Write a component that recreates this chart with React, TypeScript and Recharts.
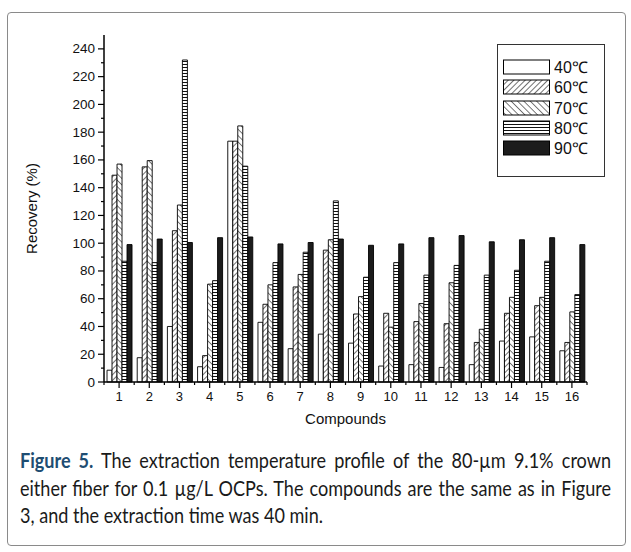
import React from 'react'
import { BarChart, Bar, XAxis, YAxis } from 'recharts'

const compounds = ['1', '2', '3', '4', '5', '6', '7', '8', '9', '10', '11', '12', '13', '14', '15', '16']
const t40 = [8.5, 17.5, 40, 11, 173.5, 43, 24, 34.5, 28, 11.5, 12.5, 10.5, 12.5, 29.5, 32.5, 22.5]
const t60 = [149, 155, 109, 19, 173.5, 56, 68.5, 95, 49, 49.5, 43.5, 42, 28.5, 49.5, 55, 28.5]
const t70 = [157, 159.5, 127.5, 70.5, 184.5, 70, 77.5, 102.5, 61.5, 39.5, 56.5, 71.5, 38, 61, 61, 50.5]
const t80 = [87, 86, 232, 73, 155.5, 86, 93.5, 130.5, 75.5, 86, 77, 84, 77, 80.5, 87, 63]
const t90 = [99, 103, 100.5, 104, 104.5, 99.5, 100.5, 103, 98.5, 99.5, 104, 105.5, 101, 102.5, 104, 99]
const yTicks = [0, 10, 20, 30, 40, 50, 60, 70, 80, 90, 100, 110, 120, 130, 140, 150, 160, 170, 180, 190, 200, 210, 220, 230, 240]

const series = [
  { key: 't40', label: '40℃', fill: '#fff' },
  { key: 't60', label: '60℃', fill: 'url(#pat60)' },
  { key: 't70', label: '70℃', fill: 'url(#pat70)' },
  { key: 't80', label: '80℃', fill: 'url(#pat80)' },
  { key: 't90', label: '90℃', fill: '#1c1c1c' },
]

const captionLines = [
  'The extraction temperature profile of the 80-µm 9.1% crown',
  'either fiber for 0.1 µg/L OCPs. The compounds are the same as in Figure',
  '3, and the extraction time was 40 min.',
]

const data = compounds.map((c, i) => ({
  name: c,
  t40: t40[i],
  t60: t60[i],
  t70: t70[i],
  t80: t80[i],
  t90: t90[i],
}))

const W = 631
const H = 440
const M = { top: 35, right: 44, left: 0, bottom: 0 }
const Y_W = 104
const step = (W - M.right - M.left - Y_W) / compounds.length
const font = "Arimo, 'Liberation Sans', Arial, Roboto, sans-serif"
const SX = 0.86

const XTick = (props: any) => {
  const { x, y, payload, index } = props
  return (
    <g>
      <line x1={x} y1={y} x2={x} y2={y + 6} stroke="#000" strokeWidth={1.2} />
      <line x1={x + step / 2} y1={y} x2={x + step / 2} y2={y + 3} stroke="#000" strokeWidth={1.2} />
      {index === 0 && <line x1={x - step / 2} y1={y} x2={x - step / 2} y2={y + 3} stroke="#000" strokeWidth={1.2} />}
      <text x={x} y={y + 19} textAnchor="middle" fontSize={13} fontFamily={font} fill="#111">
        {payload.value}
      </text>
    </g>
  )
}

const YTick = (props: any) => {
  const { x, y, payload } = props
  const major = payload.value % 20 === 0
  return (
    <g>
      <line x1={x - (major ? 6 : 3)} y1={y} x2={x} y2={y} stroke="#000" strokeWidth={1.2} />
      {major && (
        <text x={x - 9} y={y + 4.5} textAnchor="end" fontSize={13.5} fontFamily={font} fill="#111">
          {payload.value}
        </text>
      )}
    </g>
  )
}

export default function App() {
  return (
    <div style={{ position: 'absolute', left: 0, top: 0, width: W, height: 552, background: '#fff', overflow: 'hidden' }}>
      <div
        style={{
          position: 'absolute',
          left: 7,
          top: 12,
          width: 617,
          height: 532,
          border: '1.5px solid #8a8a8a',
          borderRadius: 4,
        }}
      />
      <div style={{ position: 'absolute', left: 0, top: 0 }}>
        <BarChart width={W} height={H} data={data} margin={M} barGap={0} barCategoryGap="10%">
          <defs>
            <pattern id="pat60" width="4" height="4" patternUnits="userSpaceOnUse" patternTransform="rotate(45)">
              <rect width="4" height="4" fill="#fff" />
              <line x1="0" y1="0" x2="0" y2="4" stroke="#111" strokeWidth="1.2" />
            </pattern>
            <pattern id="pat70" width="4.5" height="4.5" patternUnits="userSpaceOnUse" patternTransform="rotate(-45)">
              <rect width="4.5" height="4.5" fill="#fff" />
              <line x1="0" y1="0" x2="0" y2="4.5" stroke="#111" strokeWidth="1.1" />
            </pattern>
            <pattern id="pat80" width="4" height="3" patternUnits="userSpaceOnUse">
              <rect width="4" height="3" fill="#fff" />
              <line x1="0" y1="1.5" x2="4" y2="1.5" stroke="#111" strokeWidth="1" />
            </pattern>
          </defs>
          <XAxis
            dataKey="name"
            interval={0}
            height={H - 382 - M.bottom}
            tickSize={0}
            tickMargin={0}
            tick={<XTick />}
            axisLine={{ stroke: '#000', strokeWidth: 1.5 }}
            label={{
              value: 'Compounds',
              position: 'insideBottom',
              offset: 16,
              style: { fontSize: 15, fontFamily: font, fill: '#111' },
            }}
          />
          <YAxis
            type="number"
            domain={[0, 250]}
            ticks={yTicks}
            interval={0}
            width={Y_W}
            tickSize={0}
            tickMargin={0}
            tick={<YTick />}
            axisLine={{ stroke: '#000', strokeWidth: 1.5 }}
            label={{
              value: 'Recovery (%)',
              angle: -90,
              position: 'insideLeft',
              offset: 32,
              style: { textAnchor: 'middle', fontSize: 15, fontFamily: font, fill: '#111' },
            }}
          />
          {series.map((s) => (
            <Bar key={s.key} dataKey={s.key} fill={s.fill} stroke="#000" strokeWidth={0.9} isAnimationActive={false} />
          ))}
        </BarChart>
      </div>
      <div
        style={{
          position: 'absolute',
          left: 497,
          top: 44,
          width: 108,
          height: 133,
          border: '1.2px solid #333',
          boxSizing: 'border-box',
          background: '#fff',
        }}
      >
        {series.map((s, i) => (
          <div key={s.key} style={{ position: 'absolute', left: 5, top: 14 + i * 20.3, height: 16, display: 'flex', alignItems: 'center' }}>
            <svg width={48} height={16}>
              <rect x={0.5} y={1} width={46} height={14} fill={s.fill} stroke="#000" strokeWidth={1} />
            </svg>
            <span style={{ marginLeft: 3, fontSize: 16, fontFamily: font, color: '#111' }}>{s.label}</span>
          </div>
        ))}
      </div>
      <div
        style={{
          position: 'absolute',
          left: 20,
          top: 446,
          width: 591 / SX,
          transform: `scaleX(${SX})`,
          transformOrigin: '0 0',
          fontFamily: 'Lato, sans-serif',
          fontSize: 21,
          lineHeight: '27.5px',
          color: '#1a1a1a',
          whiteSpace: 'nowrap',
        }}
      >
        <div style={{ textAlign: 'justify', textAlignLast: 'justify' }}>
          <b style={{ color: '#1e4d72' }}>Figure 5.</b> {captionLines[0]}
        </div>
        <div style={{ textAlign: 'justify', textAlignLast: 'justify' }}>{captionLines[1]}</div>
        <div>{captionLines[2]}</div>
      </div>
    </div>
  )
}
